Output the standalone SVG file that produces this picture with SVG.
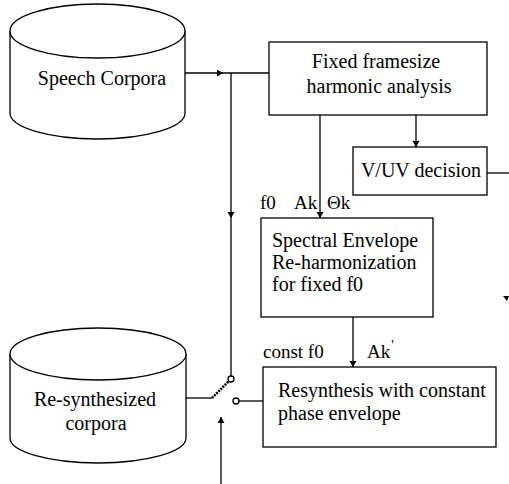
<svg xmlns="http://www.w3.org/2000/svg" width="509" height="484" viewBox="0 0 509 484">
<style>
  .ln { fill: none; stroke: #000; stroke-width: 1.3; }
  .box { fill: #fff; stroke: #000; stroke-width: 1.3; }
  .t { font-family: "Liberation Serif", "Times New Roman", serif; font-size: 20px; fill: #000; }
  .lbl { font-family: "Liberation Serif", "Times New Roman", serif; font-size: 19px; fill: #000; }
  .mid { text-anchor: middle; }
</style>
<defs>
  <marker id="arr" markerUnits="userSpaceOnUse" markerWidth="7" markerHeight="8" refX="6" refY="3.5" orient="auto">
    <path d="M0,0 L6,3.5 L0,7 z" fill="#000"/>
  </marker>
</defs>
<rect width="509" height="484" fill="#fff"/>

<g id="speech-corpora">
  <path class="box" d="M10,31 L10,113 A87.5,26 0 0 0 185,113 L185,31"/>
  <ellipse class="box" cx="97.5" cy="31" rx="87.5" ry="27"/>
  <text class="t mid" x="102" y="85" font-size="22">Speech Corpora</text>
</g>

<g id="harmonic-analysis">
  <rect class="box" x="269" y="42" width="218" height="73"/>
  <text class="t mid" x="376" y="68">Fixed framesize</text>
  <text class="t mid" x="379" y="93">harmonic analysis</text>
</g>

<g id="vuv-decision">
  <rect class="box" x="353" y="147" width="134" height="48"/>
  <text class="t mid" x="421" y="177">V/UV decision</text>
</g>

<g id="spectral-envelope">
  <rect class="box" x="261" y="218" width="172" height="99"/>
  <text class="t" x="272" y="247">Spectral Envelope</text>
  <text class="t" x="272" y="269">Re-harmonization</text>
  <text class="t" x="272" y="291">for fixed f0</text>
</g>

<g id="resynthesis">
  <rect class="box" x="263" y="367" width="233" height="80"/>
  <text class="t" x="278" y="397">Resynthesis with constant</text>
  <text class="t" x="278" y="420">phase envelope</text>
</g>

<g id="resynthesized-corpora">
  <path class="box" d="M10,354 L10,438 A88,25 0 0 0 186,438 L186,354"/>
  <ellipse class="box" cx="98" cy="354" rx="88" ry="26"/>
  <text class="t mid" x="95" y="406" font-size="21">Re-synthesized</text>
  <text class="t mid" x="96" y="430" font-size="21">corpora</text>
</g>

<g id="switch">
  <circle class="ln" cx="231" cy="379" r="3" fill="#fff"/>
  <line x1="212" y1="398" x2="229" y2="381" stroke="#000" stroke-width="2.6" stroke-dasharray="2 1"/>
  <circle class="ln" cx="236" cy="401" r="3" fill="#fff"/>
</g>

<g id="connectors">
  <path class="ln" d="M185,73 L223,73" marker-end="url(#arr)"/>
  <path class="ln" d="M223,73 L269,73"/>
  <path class="ln" d="M231,73 L231,218" marker-end="url(#arr)"/>
  <path class="ln" d="M231,218 L231,376"/>
  <path class="ln" d="M320,115 L320,218" marker-end="url(#arr)"/>
  <path class="ln" d="M416,115 L416,147" marker-end="url(#arr)"/>
  <path class="ln" d="M487,173 L509,173"/>
  <path class="ln" d="M353,317 L353,367" marker-end="url(#arr)"/>
  <path class="ln" d="M186,398 L212,398"/>
  <path class="ln" d="M239,401 L263,401"/>
  <path class="ln" d="M221,484 L221,417" marker-end="url(#arr)"/>
  <path d="M503,296 L509,296 L507,301 z" fill="#000"/>
</g>

<g id="labels">
  <text class="lbl" x="260" y="209">f0</text>
  <text class="lbl" x="294" y="209">Ak</text>
  <text class="lbl" x="327" y="209">Θk</text>
  <text class="lbl" x="263" y="358">const f0</text>
  <text class="lbl" x="367" y="358">Ak<tspan dx="1" dy="-8" font-size="14">'</tspan></text>
</g>
</svg>
